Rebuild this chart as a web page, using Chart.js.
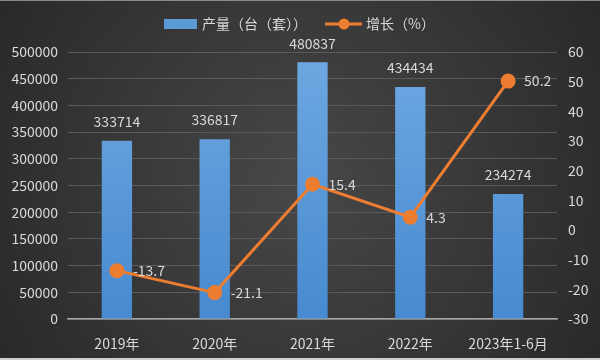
<!DOCTYPE html>
<html>
<head>
<meta charset="utf-8">
<script src="https://cdn.jsdelivr.net/npm/chart.js@4"></script>
<style>
  html, body { margin: 0; padding: 0; background: #2b2b2b; }
  #wrap { width: 600px; height: 360px; position: relative; }
</style>
</head>
<body>
<div id="wrap"><canvas id="c" width="600" height="360"></canvas></div>
<script>
var categories = ['2019年', '2020年', '2021年', '2022年', '2023年1-6月'];
var output = [333714, 336817, 480837, 434434, 234274];
var growth = [-13.7, -21.1, 15.4, 4.3, 50.2];
var leftTicks = [0, 50000, 100000, 150000, 200000, 250000, 300000, 350000, 400000, 450000, 500000];
var rightTicks = [-30, -20, -10, 0, 10, 20, 30, 40, 50, 60];

var FONT = "'Noto Sans CJK SC', 'DejaVu Sans', sans-serif";
var TXT = '#d9d9d9';

// 背景：深灰径向渐变 + 自绘图例
var bgPlugin = {
    id: 'bg',
    beforeDraw: function (chart) {
        var c = chart.ctx, w = chart.width, h = chart.height;
        c.save();
        var g = c.createRadialGradient(w / 2, h / 2, 20, w / 2, h / 2, w * 0.62);
        g.addColorStop(0, '#464646');
        g.addColorStop(1, '#272727');
        c.fillStyle = g;
        c.fillRect(0, 0, w, h);
        c.fillStyle = '#cfcfcf';
        c.fillRect(0, h - 2, w, 2);
        c.fillStyle = '#8a8a8a';
        c.fillRect(0, 0, w, 1);
        c.restore();
    },
    afterDraw: function (chart) {
        var c = chart.ctx;
        c.save();
        c.font = '14px ' + FONT;
        c.textBaseline = 'middle';
        var y = 24;
        // 产量
        c.fillStyle = '#5b9bd5';
        c.fillRect(164, y - 5, 33, 10);
        c.fillStyle = TXT;
        c.fillText('产量（台（套））', 202, y);
        // 增长
        c.strokeStyle = '#ed7d31';
        c.lineWidth = 3;
        c.beginPath(); c.moveTo(325, y); c.lineTo(362, y); c.stroke();
        c.fillStyle = '#ed7d31';
        c.beginPath(); c.arc(344, y, 5.5, 0, Math.PI * 2); c.fill();
        c.fillStyle = TXT;
        c.fillText('增长（%）', 366, y);
        c.restore();
    }
};

// 数据标签
var labelPlugin = {
    id: 'labels',
    afterDatasetsDraw: function (chart) {
        var c = chart.ctx;
        c.save();
        c.font = '14px ' + FONT;
        c.fillStyle = TXT;
        c.textBaseline = 'middle';
        var bars = chart.getDatasetMeta(0).data;
        c.textAlign = 'center';
        bars.forEach(function (b, i) {
            c.fillText(String(output[i]), b.x, b.y - 19);
        });
        var pts = chart.getDatasetMeta(1).data;
        c.textAlign = 'left';
        pts.forEach(function (p, i) {
            c.fillText(growth[i].toFixed(1), p.x + 16, p.y);
        });
        c.restore();
    }
};

var ctx = document.getElementById('c').getContext('2d');
var barGrad = ctx.createLinearGradient(0, 52, 0, 319);
barGrad.addColorStop(0, '#6ea8e1');
barGrad.addColorStop(1, '#478ad0');

new Chart(ctx, {
    type: 'bar',
    data: {
        labels: categories,
        datasets: [{
            type: 'bar',
            label: '产量（台（套））',
            data: output,
            backgroundColor: barGrad,
            yAxisID: 'y',
            barPercentage: 0.31,
            categoryPercentage: 1,
            order: 2
        }, {
            type: 'line',
            label: '增长（%）',
            data: growth,
            borderColor: '#ed7d31',
            backgroundColor: '#ed7d31',
            borderWidth: 3,
            pointRadius: 6,
            pointHoverRadius: 6,
            pointBackgroundColor: '#ed7d31',
            pointBorderColor: '#ed7d31',
            tension: 0,
            yAxisID: 'y1',
            order: 1
        }]
    },
    options: {
        responsive: false,
        animation: false,
        layout: { padding: { top: 52, left: 0, right: 0, bottom: 0 } },
        plugins: {
            legend: { display: false },
            tooltip: { enabled: false }
        },
        scales: {
            x: {
                grid: { display: false },
                border: { color: '#a6a6a6', width: 1.5 },
                ticks: { color: TXT, font: { family: FONT, size: 14 }, padding: 8, maxRotation: 0 },
                afterFit: function (s) { s.height = 41; }
            },
            y: {
                position: 'left',
                min: 0, max: 500000,
                afterBuildTicks: function (s) { s.ticks = leftTicks.map(function (v) { return { value: v }; }); },
                grid: { color: '#5a5a5a', drawTicks: false },
                border: { display: false },
                ticks: {
                    color: TXT, font: { family: FONT, size: 14 }, padding: 10,
                    callback: function (v) { return String(v); }
                },
                afterFit: function (s) { s.width = 68; }
            },
            y1: {
                position: 'right',
                min: -30, max: 60,
                afterBuildTicks: function (s) { s.ticks = rightTicks.map(function (v) { return { value: v }; }); },
                grid: { display: false, drawTicks: false },
                border: { display: false },
                ticks: {
                    color: TXT, font: { family: FONT, size: 14 }, padding: 11,
                    callback: function (v) { return String(v); }
                },
                afterFit: function (s) { s.width = 43; }
            }
        }
    },
    plugins: [bgPlugin, labelPlugin]
});
</script>
</body>
</html>
